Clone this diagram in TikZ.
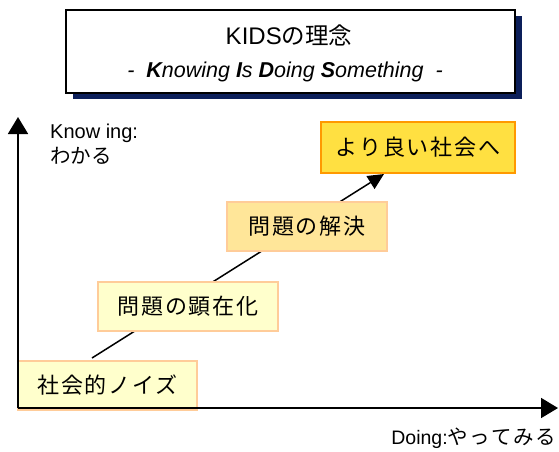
\documentclass[tikz,border=0pt]{standalone}
\usepackage{fontspec}
\setmainfont{Liberation Sans}
\newfontfamily\jp{Noto Sans CJK JP}[LetterSpace=8]
\newfontfamily\jpn{Noto Sans CJK JP}
\usetikzlibrary{arrows.meta,shadows,backgrounds}
\definecolor{navy}{HTML}{0C1F5A}
\definecolor{paleyel}{HTML}{FFFFCC}
\definecolor{peach}{HTML}{FFCC99}
\definecolor{midyel}{HTML}{FFE699}
\definecolor{goldyel}{HTML}{FFE041}
\definecolor{orangeb}{HTML}{FF9900}
\tikzset{
  stagebox/.style={draw=peach, line width=2pt, fill=paleyel, inner sep=0pt, font=\jp\fontsize{22}{26}\selectfont},
  titlebox/.style={draw=black, line width=2pt, fill=white, inner sep=0pt,
     drop shadow={shadow xshift=7pt, shadow yshift=-6pt, fill=navy, opacity=1}},
  axis/.style={line width=1.8pt, -{Triangle[length=17pt,width=20pt]}},
  stepline/.style={line width=1.5pt, -{Triangle[length=16pt,width=15pt]}},
}
\begin{document}
\begin{tikzpicture}[x=1pt,y=-1pt]
\useasboundingbox (0,0) rectangle (559,451);
% title
\node[titlebox, minimum width=449pt, minimum height=83pt] (title) at (290.5,51.5) {};
\node[font=\fontsize{24}{28}\selectfont] (t1) at (289,35) {KIDS{\jpn\fontsize{23.5}{28}\selectfont の理念}};
\node[font=\fontsize{21.5}{25}\selectfont\itshape] (t2) at (285,72)
  {-\ \ \textbf{K}nowing \textbf{I}s \textbf{D}oing \textbf{S}omething\ \ -};
% axes
\coordinate (O) at (18,408);
\coordinate (Ytip) at (18,117);
\coordinate (Xtip) at (558,408);
% boxes
\node[stagebox, minimum width=179pt, minimum height=49pt] (b1) at (107.5,385.5) {社会的ノイズ};
\node[stagebox, minimum width=180pt, minimum height=49pt] (b2) at (188,306.5) {問題の顕在化};
\node[stagebox, fill=midyel, minimum width=160pt, minimum height=49pt] (b3) at (307,226.5) {問題の解決};
\node[stagebox, fill=goldyel, draw=orangeb, minimum width=194pt, minimum height=51pt] (b4) at (418,147.5) {より良い社会へ};
\begin{scope}[on background layer]
\draw[stepline] ([xshift=-15.5pt,yshift=2pt]b1.north) -- ([xshift=-34pt]b4.south);
\end{scope}
\draw[axis] (O) -- (Ytip);
\draw[axis] (O) -- (Xtip);
% axis labels
\node[anchor=west, inner sep=0pt, align=left, font=\fontsize{20}{25}\selectfont] (ylab) at (50,144)
  {Know ing:\\{\jpn\fontsize{20.5}{25}\selectfont わかる}};
\node[anchor=east, inner sep=0pt, font=\fontsize{19.5}{22}\selectfont] (xlab) at (556,438)
  {Doing:{\jp\fontsize{20.5}{22}\selectfont やってみる}};
\end{tikzpicture}
\end{document}
